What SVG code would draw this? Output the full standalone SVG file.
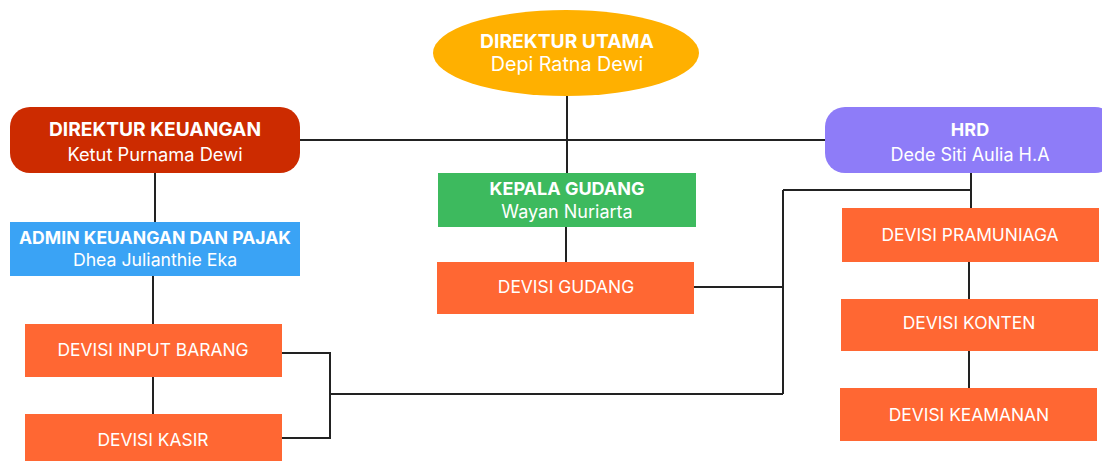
<svg xmlns="http://www.w3.org/2000/svg" width="1102" height="461" viewBox="0 0 1102 461">
<style>
.t{font-family:Inter,"Liberation Sans",sans-serif;fill:#fff;text-anchor:middle}
.b{font-weight:700;font-size:18px}
.n{font-weight:400;font-size:18px}
.d{font-weight:400;font-size:17.4px}
.c{fill:none;stroke:#222;stroke-width:2}
.or{fill:#FF6733}
</style>
<rect width="1102" height="461" fill="#fff"/>
<g id="connectors">
<path class="c" d="M567 96V173M300 140H825M155 173V222M153 276V324M153 377V414M566 227V262M971 173V208M969 262V299M969 351V388M783 190H971M783 190V394M694 287H783M331 394H783M282 353H330V438H282"/>
</g>
<g id="direktur-utama">
<ellipse cx="566" cy="53" rx="133" ry="43" fill="#FFB000"/>
<text class="t b" x="567" y="48" style="font-size:19.3px">DIREKTUR UTAMA</text>
<text class="t n" x="567" y="71" style="font-size:19.7px">Depi Ratna Dewi</text>
</g>
<g id="direktur-keuangan">
<rect x="10" y="107" width="290" height="66" rx="20" fill="#CC2B00"/>
<text class="t b" x="155" y="136" style="font-size:19.2px">DIREKTUR KEUANGAN</text>
<text class="t n" x="155" y="161" style="font-size:18.3px">Ketut Purnama Dewi</text>
</g>
<g id="hrd">
<rect x="825" y="107" width="290" height="66" rx="20" fill="#8E7CF8"/>
<text class="t b" x="970" y="136">HRD</text>
<text class="t n" x="970" y="161">Dede Siti Aulia H.A</text>
</g>
<g id="admin">
<rect x="10" y="222" width="290" height="54" fill="#3AA3F5"/>
<text class="t b" x="155" y="244" style="font-size:17.6px">ADMIN KEUANGAN DAN PAJAK</text>
<text class="t n" x="155" y="266" style="font-size:17.7px">Dhea Julianthie Eka</text>
</g>
<g id="kepala-gudang">
<rect x="438" y="173" width="258" height="54" fill="#3DBA5E"/>
<text class="t b" x="567" y="195">KEPALA GUDANG</text>
<text class="t n" x="567" y="218">Wayan Nuriarta</text>
</g>
<g id="devisi-gudang">
<rect class="or" x="437" y="262" width="257" height="52"/>
<text class="t d" x="566" y="293">DEVISI GUDANG</text>
</g>
<g id="devisi-input">
<rect class="or" x="25" y="324" width="257" height="53"/>
<text class="t d" x="153" y="356">DEVISI INPUT BARANG</text>
</g>
<g id="devisi-kasir">
<rect class="or" x="25" y="414" width="257" height="53"/>
<text class="t d" x="153" y="446">DEVISI KASIR</text>
</g>
<g id="devisi-pramuniaga">
<rect class="or" x="842" y="208" width="257" height="54"/>
<text class="t d" x="970" y="241">DEVISI PRAMUNIAGA</text>
</g>
<g id="devisi-konten">
<rect class="or" x="841" y="299" width="257" height="52"/>
<text class="t d" x="969" y="329">DEVISI KONTEN</text>
</g>
<g id="devisi-keamanan">
<rect class="or" x="840" y="388" width="257" height="53"/>
<text class="t d" x="969" y="421">DEVISI KEAMANAN</text>
</g>
</svg>
